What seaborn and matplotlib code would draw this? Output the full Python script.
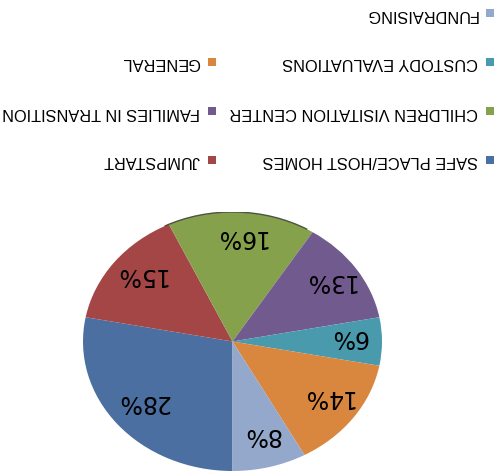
import matplotlib
matplotlib.use('Agg')
import matplotlib.pyplot as plt
from matplotlib.patches import Arc
import seaborn as sns

# data (the reference image is shown upside down, so everything is drawn rotated 180 deg)
categories = ['SAFE PLACE/HOST HOMES', 'JUMPSTART', 'CHILDREN VISITATION CENTER',
              'FAMILIES IN TRANSITION', 'CUSTODY EVALUATIONS', 'GENERAL', 'FUNDRAISING']
shares = [28, 15, 16, 13, 6, 14, 8]
colors = ['#4A6FA0', '#A54646', '#86A14C', '#715A8E', '#4A9AAE', '#D9873F', '#93A8CB']

sns.set_style('white')
plt.rcParams['font.family'] = ['DejaVu Sans']

fig = plt.figure(figsize=(5.03, 4.77), dpi=100)

# pie (slightly flattened like the excel 3d pie)
ax = fig.add_axes([83 / 503, 5 / 477, 299 / 503, 259 / 477])
wedges, texts, autotexts = ax.pie(
    shares, colors=colors, startangle=-90, counterclock=False,
    autopct='%1.0f%%', pctdistance=0.78,
    wedgeprops={'linewidth': 0},
    textprops={'fontsize': 17, 'rotation': 180, 'color': 'black'})
ax.set_aspect('auto')
ax.set_xlim(-1, 1)
ax.set_ylim(-1, 1)
# upside-down text sits low in its box, lift it a little
for t in autotexts:
    x, y = t.get_position()
    t.set_position((x, y + 0.04))
# thin dark rim of the 3d pie
ax.add_patch(Arc((0, 0), 2, 2, theta1=60, theta2=117, color='#4a5540', lw=1.0, zorder=5))

# legend, built by hand so the text can be turned upside down
lax = fig.add_axes([0, 0, 1, 1])
lax.set_xlim(0, 503)
lax.set_ylim(477, 0)
lax.axis('off')
for i, (name, c) in enumerate(zip(categories, colors)):
    row, col = divmod(i, 2)
    mx = 490 if col == 0 else 212
    my = 161 - row * 49
    lax.scatter([mx], [my], marker='s', s=40, color=c, linewidths=0)
    lax.text(mx - 12, my, name, rotation=180, ha='right', va='center',
             fontsize=11.8, family='Liberation Sans', color='black')

fig.savefig('out.png', dpi=100)
